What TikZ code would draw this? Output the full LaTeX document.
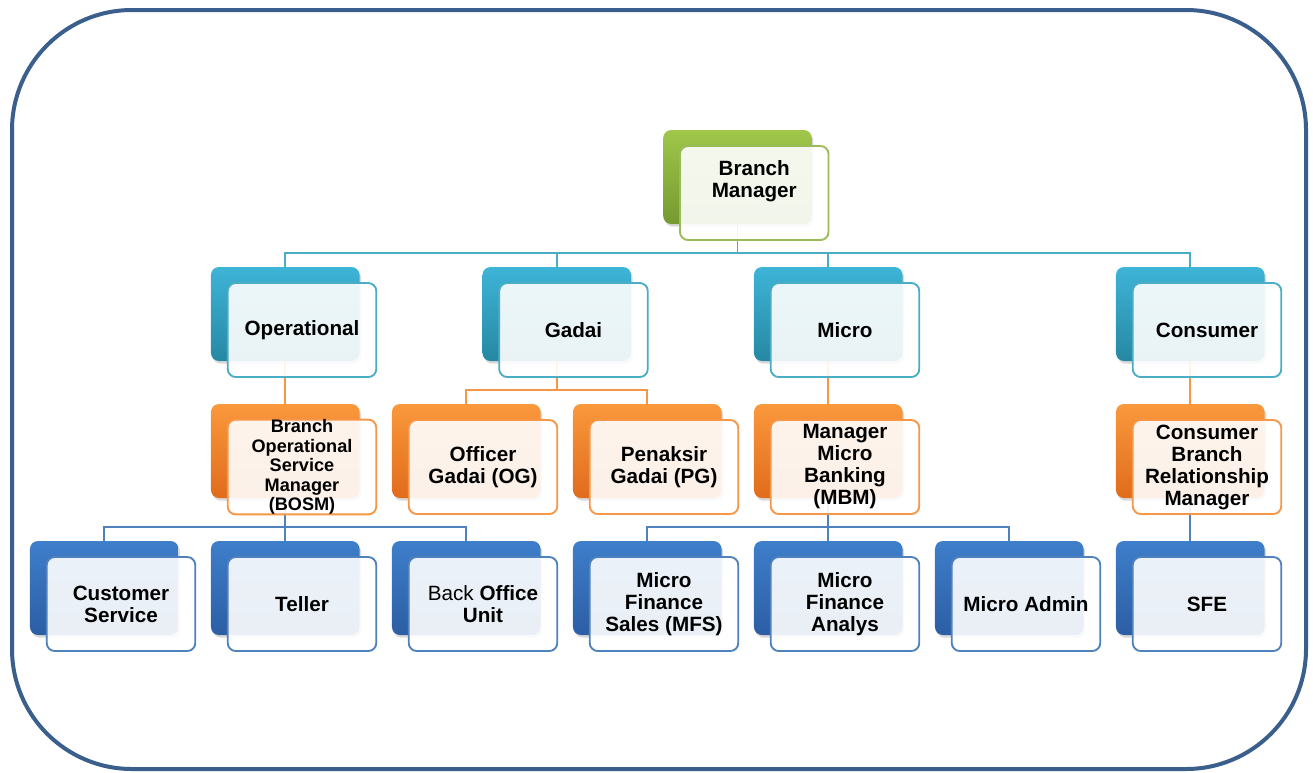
\documentclass[tikz,border=0pt]{standalone}
\usepackage{fontspec}
\setmainfont{Liberation Sans}
\usetikzlibrary{shadows}
\pgfdeclarelayer{bg}
\pgfsetlayers{bg,main}
\definecolor{frame}{RGB}{58,95,140}
\definecolor{gT}{RGB}{160,198,74}\definecolor{gB}{RGB}{116,154,48}\definecolor{gL}{RGB}{155,187,89}
\definecolor{cT}{RGB}{62,180,215}\definecolor{cB}{RGB}{38,136,163}\definecolor{cL}{RGB}{75,172,198}
\definecolor{oT}{RGB}{250,152,60}\definecolor{oB}{RGB}{224,108,28}\definecolor{oL}{RGB}{247,150,70}
\definecolor{bT}{RGB}{62,126,202}\definecolor{bB}{RGB}{44,94,164}\definecolor{bL}{RGB}{79,129,189}
\newcommand\orgnode[5]{%
  \node[back=#4] (#1) at (#2+74.25,#3+47) {};
  \node[front=#4] (#1f) at (#2+91,#3+63) {#5};
}
\begin{document}
\begin{tikzpicture}[x=0.75pt,y=-0.75pt,
  back/.style={rounded corners=6pt, minimum width=111.4pt, minimum height=70.5pt, inner sep=0pt,
    top color=#1T, bottom color=#1B, draw=none,
    drop shadow={opacity=0.3, shadow xshift=1.2pt, shadow yshift=-2pt}},
  label/.style={align=center, font=\bfseries\fontsize{15.5}{16.5}\selectfont},
  front/.style={rounded corners=6pt, minimum width=111.4pt, minimum height=70.5pt, inner sep=0pt,
    draw=#1L, line width=1.4pt, fill=white, fill opacity=0.9, text opacity=1, label},
  small/.style={font=\bfseries\fontsize{13.6}{14.6}\selectfont},
  lc/.style={draw=#1L, line width=1.2pt}]
\useasboundingbox (0,0) rectangle (1313,772);
\draw[line width=3pt, draw=frame, rounded corners=90pt] (12,10) rectangle (1306,769);

\orgnode{bm}{663.25}{130}{g}{}
\node[label] (bmt) at (754.25,181) {Branch\\Manager};
\orgnode{op}{211}{267}{c}{Operational}
\orgnode{gd}{482.5}{267}{c}{Gadai}
\orgnode{mi}{754}{267}{c}{Micro}
\orgnode{co}{1116}{267}{c}{Consumer}
\node[back=o] (bosm) at (211+74.25,404+47) {};
\node[front=o, small] (bosmf) at (211+91,404+63) {Branch\\Operational\\Service\\Manager\\(BOSM)};
\orgnode{og}{392}{404}{o}{Officer\\Gadai (OG)}
\orgnode{pg}{573}{404}{o}{Penaksir\\Gadai (PG)}
\orgnode{mbm}{754}{404}{o}{Manager\\Micro\\Banking\\(MBM)}
\orgnode{cbrm}{1116}{404}{o}{Consumer\\Branch\\Relationship\\Manager}
\orgnode{cs}{30}{541}{b}{Customer\\Service}
\orgnode{te}{211}{541}{b}{Teller}
\orgnode{bou}{392}{541}{b}{{\mdseries Back} Office\\Unit}
\orgnode{mfs}{573}{541}{b}{Micro\\Finance\\Sales (MFS)}
\orgnode{mfa}{754}{541}{b}{Micro\\Finance\\Analys}
\orgnode{ma}{935}{541}{b}{Micro Admin}
\orgnode{sfe}{1116}{541}{b}{SFE}

\coordinate (b1) at (0,253);
\coordinate (b2) at (0,390);
\coordinate (b3) at (0,527);
\begin{pgfonlayer}{bg}
\foreach \c in {op,gd,mi,co}
  \draw[lc=c] (bm.south) -- (bm.south |- b1) -| (\c.north);
\draw[lc=o] (op.south) -- (bosm.north);
\foreach \c in {og,pg}
  \draw[lc=o] (gd.south) -- (gd.south |- b2) -| (\c.north);
\draw[lc=o] (mi.south) -- (mbm.north);
\draw[lc=o] (co.south) -- (cbrm.north);
\foreach \c in {cs,te,bou}
  \draw[lc=b] (bosm.south) -- (bosm.south |- b3) -| (\c.north);
\foreach \c in {mfs,mfa,ma}
  \draw[lc=b] (mbm.south) -- (mbm.south |- b3) -| (\c.north);
\draw[lc=b] (cbrm.south) -- (sfe.north);
\end{pgfonlayer}
\end{tikzpicture}
\end{document}
